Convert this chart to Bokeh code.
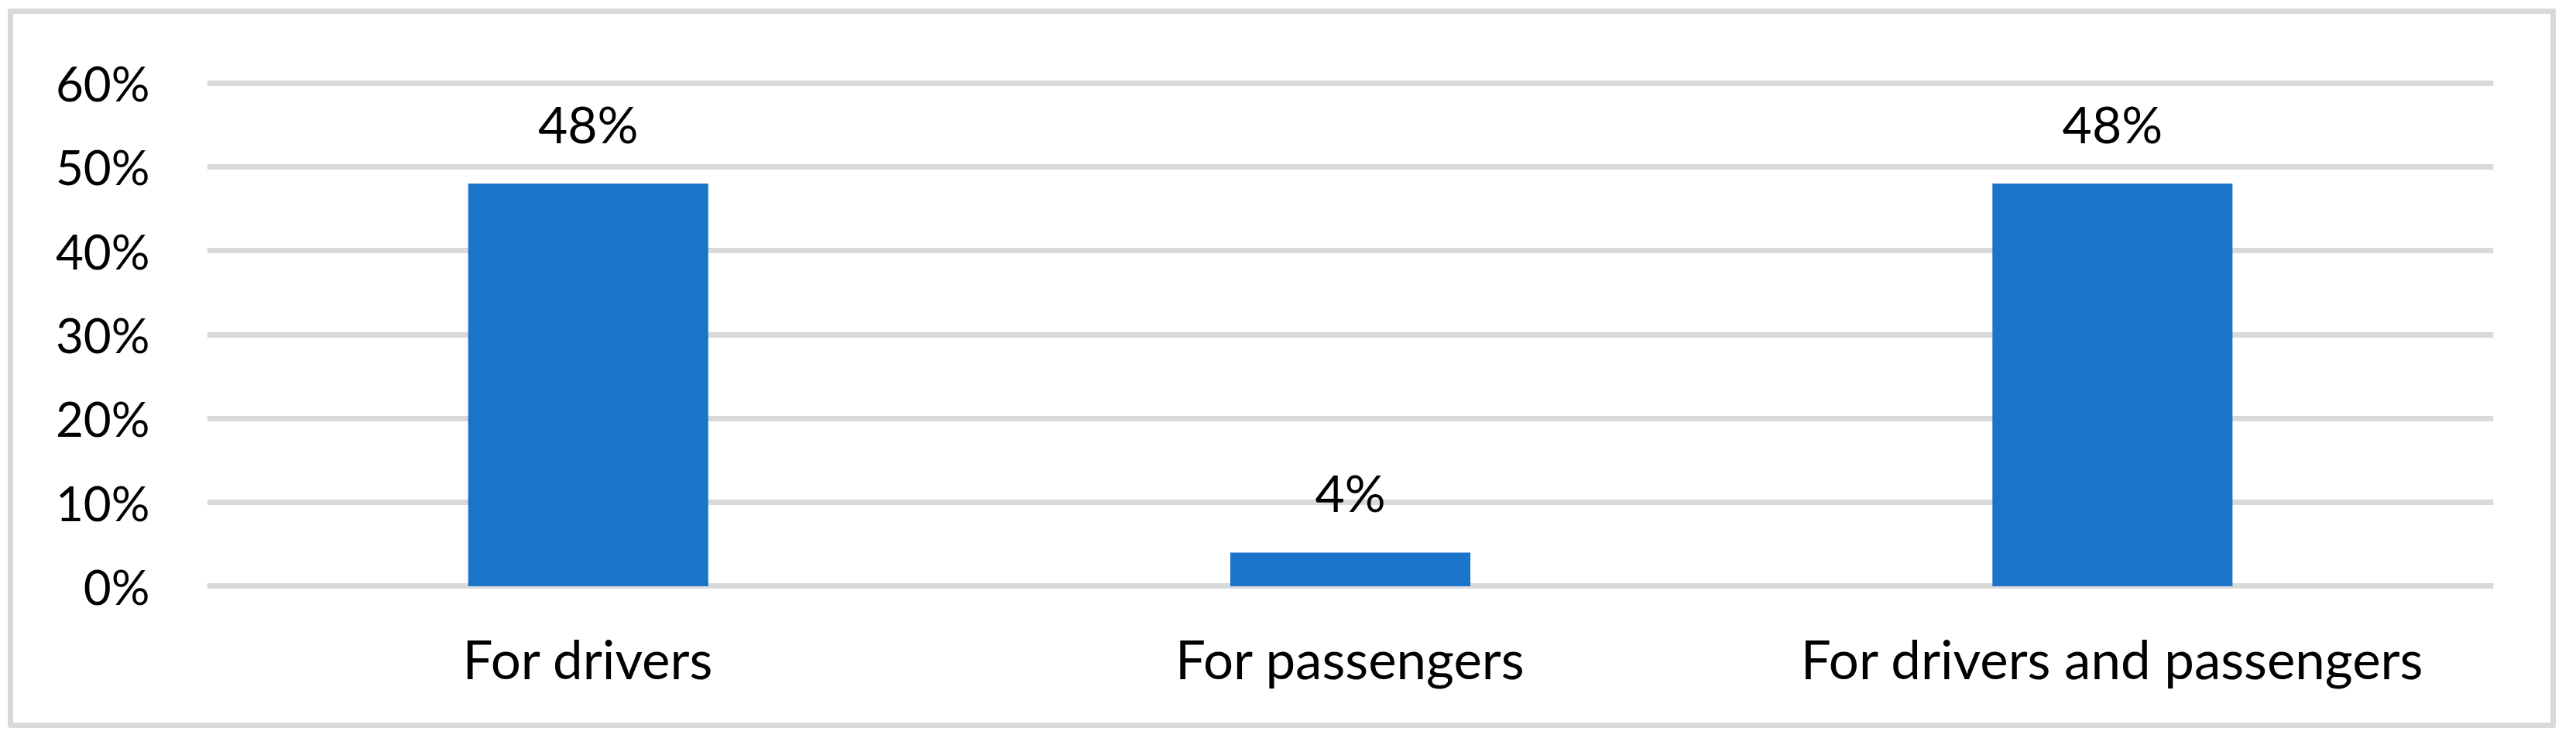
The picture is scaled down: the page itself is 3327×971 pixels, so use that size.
from bokeh.plotting import figure
from bokeh.models import Range1d, FactorRange, NumeralTickFormatter, FixedTicker, ColumnDataSource
from bokeh.core.properties import value
from bokeh.embed import file_html
from bokeh.resources import INLINE

categories = ["For drivers", "For passengers", "For drivers and passengers"]
shares = [0.48, 0.04, 0.48]
share_labels = ["48%", "4%", "48%"]
y_ticks = [0.0, 0.1, 0.2, 0.3, 0.4, 0.5, 0.6]

FONT = "Lato"

src = ColumnDataSource(data=dict(cat=categories, val=shares, lab=share_labels))

p = figure(
    x_range=FactorRange(*categories, range_padding=0),
    y_range=Range1d(-0.0042, 0.6042),
    width=3291, height=929,
    output_backend="svg", toolbar_location=None,
    min_border_left=250, min_border_right=88, min_border_top=84, min_border_bottom=186,
    styles={"border": "7px solid #D9D9D9", "border-radius": "3px",
            "margin-left": "10px", "margin-top": "11px"},
)
p.x_range.factor_padding = 0
p.outline_line_color = None
p.background_fill_color = "white"
p.border_fill_color = "white"

p.vbar(x="cat", top="val", bottom=0, width=0.315, source=src,
       fill_color="#1A74C9", line_color=None)

p.text(x="cat", y="val", text="lab", source=src, text_align="center",
       text_baseline="alphabetic", y_offset=-78,
       text_font=value(FONT), text_font_size="66px", text_color="black")

p.xgrid.grid_line_color = None
p.ygrid.grid_line_color = "#D9D9D9"
p.ygrid.grid_line_width = 7
p.ygrid.level = "underlay"

p.yaxis.ticker = FixedTicker(ticks=y_ticks)
p.yaxis.formatter = NumeralTickFormatter(format="0%")
for ax in (p.xaxis, p.yaxis):
    ax.axis_line_color = None
    ax.major_tick_line_color = None
    ax.minor_tick_line_color = None
    ax.major_tick_out = 0
    ax.major_tick_in = 0
    ax.major_label_text_font = FONT
    ax.major_label_text_color = "black"
p.yaxis.major_label_text_font_size = "62px"
p.xaxis.major_label_text_font_size = "69px"
p.yaxis.major_label_standoff = 74
p.xaxis.major_label_standoff = 47

open("out.html", "w").write(file_html(p, INLINE))
